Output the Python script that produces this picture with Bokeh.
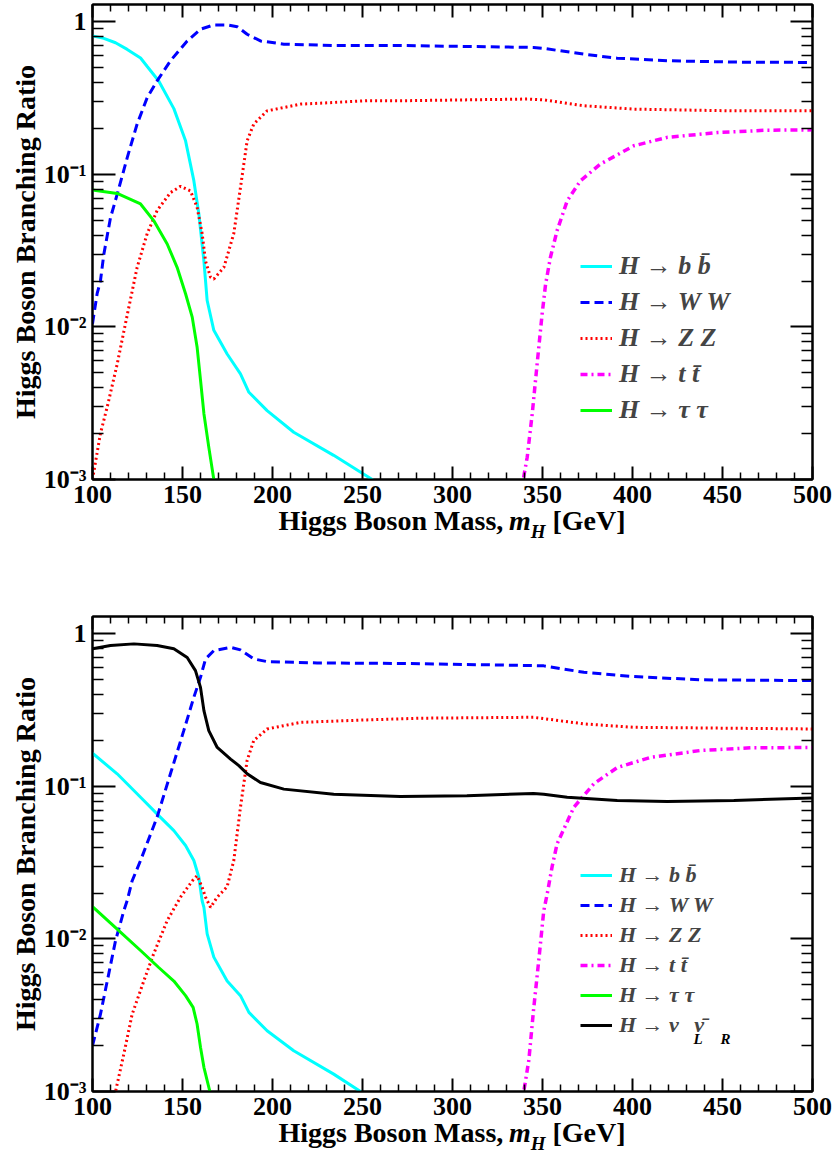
from bokeh.plotting import figure
from bokeh.layouts import column
from bokeh.models import (LogAxis, LinearAxis, FixedTicker, Legend, LegendItem,
                          Label, Range1d, Div)
from bokeh.embed import file_html
from bokeh.resources import INLINE

# ---------------- data ----------------
x_major = [100, 150, 200, 250, 300, 350, 400, 450, 500]
x_minor = [m for m in range(100, 501, 10) if m % 50 != 0]
y_major = [0.001, 0.01, 0.1, 1.0]
y_minor = [k * d for d in (0.001, 0.01, 0.1) for k in range(2, 10)]
y_labels = {0.001: "10\u207b\u00b3", 0.01: "10\u207b\u00b2", 0.1: "10\u207b\u00b9", 1.0: "1"}

# --- upper panel ---
top_bb_m = [100, 106.3, 112.8, 119.3, 126.7, 130.4, 136.8, 145.2, 151.7, 156.3, 159.1,
            161.9, 163.7, 167.4, 174.8, 182.2, 186.9, 197, 211.8, 234, 255.4, 265]
top_bb_br = [0.81, 0.78, 0.73, 0.66, 0.58, 0.51, 0.41, 0.27, 0.166, 0.091, 0.055,
             0.027, 0.0149, 0.0095, 0.00665, 0.00492, 0.00373, 0.00283, 0.00204, 0.00144,
             0.001, 0.00085]

top_ww_m = [100, 102.6, 104.4, 106.3, 110, 113.7, 119.3, 124.8, 130.4, 135.9, 143.3,
            152.6, 160, 167.4, 174.8, 180.4, 185.9, 193.3, 206.3, 234, 271, 345,
            350.7, 373, 391.5, 419.3, 456.3, 500]
top_ww_br = [0.0105, 0.0166, 0.020, 0.030, 0.052, 0.074, 0.129, 0.214, 0.319, 0.41, 0.556,
             0.75, 0.895, 0.955, 0.955, 0.93, 0.83, 0.75, 0.714, 0.70, 0.70, 0.68,
             0.67, 0.614, 0.578, 0.556, 0.545, 0.542]

top_zz_m = [100, 104.4, 108.2, 113.7, 119.3, 124.8, 130.4, 135.9, 143.3, 148.9, 154.4,
            158.1, 160.9, 162.8, 165.6, 167.4, 173, 178.5, 182.2, 185.9, 189.6, 197,
            215.6, 252.6, 271, 341.5, 350.7, 373, 400.7, 456, 500]
top_zz_br = [0.001, 0.002, 0.003, 0.0057, 0.012, 0.0246, 0.041, 0.058, 0.076, 0.0835, 0.078,
             0.061, 0.041, 0.027, 0.0212, 0.0206, 0.0246, 0.041, 0.082, 0.166, 0.214, 0.261,
             0.289, 0.304, 0.304, 0.312, 0.308, 0.282, 0.268, 0.261, 0.261]

top_tt_m = [338, 339.3, 341.5, 344.3, 347, 349.8, 351.7, 354.4, 358.1, 363.7, 371.1,
            382.2, 400.7, 419.3, 447, 474.8, 500]
top_tt_br = [0.0008, 0.001, 0.0014, 0.0027, 0.0057, 0.0122, 0.019, 0.0286, 0.0428, 0.067,
             0.091, 0.117, 0.154, 0.175, 0.188, 0.195, 0.196]

top_tau_m = [100, 113.7, 126.7, 134, 141.5, 147, 151.7, 155.4, 158.1, 160, 161.9, 164.6,
             167.4, 169]
top_tau_br = [0.079, 0.075, 0.064, 0.0498, 0.035, 0.0246, 0.0165, 0.0116, 0.0074, 0.0045,
              0.0027, 0.00163, 0.001, 0.0008]

# --- lower panel ---
bot_bb_m = [100, 113.7, 126.7, 136.8, 145.2, 151.7, 156.3, 159.1, 160.9, 161.9, 163.7,
            167.4, 174.8, 182.2, 186.9, 197, 211.8, 234, 248.9, 258]
bot_bb_br = [0.165, 0.121, 0.085, 0.0644, 0.0513, 0.041, 0.0327, 0.0254, 0.0178, 0.0161,
             0.0108, 0.0076, 0.0053, 0.00425, 0.0033, 0.0025, 0.00185, 0.0013, 0.001, 0.00085]

bot_ww_m = [100, 104.4, 108.2, 112.8, 117.4, 119.3, 122, 126.7, 135.9, 143.3, 150.7,
            156.3, 160, 162.8, 167.4, 176.7, 182.2, 189.6, 197, 224.8, 271, 345, 350.7,
            373, 400.7, 437.8, 500]
bot_ww_br = [0.002, 0.0032, 0.0053, 0.00975, 0.0153, 0.0179, 0.024, 0.0327, 0.063, 0.121,
             0.232, 0.384, 0.519, 0.685, 0.777, 0.817, 0.785, 0.685, 0.658, 0.645, 0.64,
             0.62, 0.617, 0.56, 0.525, 0.50, 0.494]

bot_zz_m = [110, 112.8, 117.4, 122, 128.5, 134, 141.5, 148.9, 155.4, 158.1, 160.9, 162.8,
            165.6, 169.3, 174.8, 178.5, 182.2, 185.9, 189.6, 197, 215.6, 252.6, 282, 345,
            373, 400.7, 500]
bot_zz_br = [0.0007, 0.001, 0.00176, 0.0032, 0.0053, 0.008, 0.0132, 0.0188, 0.024, 0.026,
             0.0218, 0.0188, 0.0161, 0.0188, 0.022, 0.0327, 0.073, 0.148, 0.2, 0.238,
             0.263, 0.273, 0.28, 0.284, 0.257, 0.244, 0.238]

bot_tt_m = [338, 339.6, 342.4, 345, 347.9, 350.7, 352.6, 355.4, 358.1, 367.4, 378.5,
            391.5, 410, 437.8, 465.6, 500]
bot_tt_br = [0.0008, 0.001, 0.0016, 0.0034, 0.0072, 0.0153, 0.0197, 0.030, 0.042, 0.073,
             0.104, 0.133, 0.155, 0.172, 0.179, 0.18]

bot_tau_m = [100, 113.7, 126.7, 136.8, 145.2, 151.7, 155.9, 158.1, 160, 161.9, 165.2, 167]
bot_tau_br = [0.0163, 0.0116, 0.0084, 0.0065, 0.0053, 0.00425, 0.00356, 0.00277, 0.00195,
              0.00144, 0.001, 0.0008]

bot_nu_m = [100, 110, 123, 135.9, 145.2, 152.6, 157.2, 160, 161.9, 164.6, 169.3, 176.7,
            181.3, 185.9, 193.3, 206.3, 234, 271, 308, 345, 350.7, 363.7, 391.5, 419.3,
            456.3, 500]
bot_nu_br = [0.80, 0.84, 0.86, 0.84, 0.80, 0.70, 0.574, 0.446, 0.314, 0.232, 0.18, 0.151,
             0.137, 0.121, 0.106, 0.096, 0.089, 0.086, 0.087, 0.090, 0.089, 0.085, 0.081,
             0.0795, 0.081, 0.084]

labels_top = ["H \u2192 b b\u0304", "H \u2192 W W", "H \u2192 Z Z", "H \u2192 t t\u0304",
              "H \u2192 \u03c4 \u03c4"]
labels_bot = labels_top + ["H \u2192 \u03bd\u2002\u2009\u03bd\u0304"]

x_title_html = ('<div style="position:relative; top:-12px; width:720px;'
                ' font-family:\'Liberation Serif\'; font-size:28px; font-weight:bold;'
                ' line-height:28px; text-align:center; color:black; white-space:nowrap;">'
                'Higgs Boson Mass,\u2009<i>m</i>'
                '<span style="font-size:19px; font-style:italic; position:relative;'
                ' top:8px;">H</span> [GeV]</div>')

FONT = "Liberation Serif"
STYLES = {
    "bb": dict(line_color="#00ffff", line_width=3),
    "ww": dict(line_color="#0000ff", line_width=3, line_dash="9 5"),
    "zz": dict(line_color="#ff0000", line_width=3, line_dash="2 3"),
    "tt": dict(line_color="#ff00ff", line_width=3.5, line_dash="7 4 2 4"),
    "tau": dict(line_color="#00ff00", line_width=3),
    "nu": dict(line_color="#000000", line_width=3),
}


def style_axis(ax, tick_in, minor_in, labels=True):
    ax.axis_line_color = "black"
    ax.axis_line_width = 2
    ax.major_tick_in = tick_in
    ax.major_tick_out = 0
    ax.minor_tick_in = minor_in
    ax.minor_tick_out = 0
    ax.major_tick_line_width = 2
    ax.minor_tick_line_width = 1.5
    ax.major_tick_line_color = "black"
    ax.minor_tick_line_color = "black"
    if labels:
        ax.major_label_text_font = FONT
        ax.major_label_text_font_style = "bold"
        ax.major_label_text_font_size = "26px"
        ax.major_label_text_color = "black"
    else:
        ax.major_label_text_font_size = "1px"
        ax.major_label_text_alpha = 0
        ax.major_label_standoff = 0


def make_panel(series, labels, border_top, border_bottom, leg_font, leg_row, leg_y):
    p = figure(x_range=Range1d(100, 500), y_range=Range1d(1e-3, 1.3), y_axis_type="log",
               frame_width=720, frame_height=475, min_border_left=92, min_border_right=24,
               min_border_top=border_top, min_border_bottom=border_bottom,
               output_backend="svg", toolbar_location=None, background_fill_color="white")
    p.grid.visible = False
    p.outline_line_color = "black"
    p.outline_line_width = 2

    xa = p.xaxis[0]
    xa.ticker = FixedTicker(ticks=x_major, minor_ticks=x_minor)
    style_axis(xa, 13, 7)
    xa.major_label_standoff = 6

    ya = p.yaxis[0]
    ya.ticker = FixedTicker(ticks=y_major, minor_ticks=y_minor)
    ya.major_label_overrides = y_labels
    style_axis(ya, 23, 11)
    ya.major_label_standoff = 6
    ya.axis_label = "Higgs Boson Branching Ratio"
    ya.axis_label_text_font = FONT
    ya.axis_label_text_font_style = "bold"
    ya.axis_label_text_font_size = "28px"
    ya.axis_label_text_color = "black"
    ya.axis_label_standoff = 0

    top_ax = LinearAxis(ticker=FixedTicker(ticks=x_major, minor_ticks=x_minor))
    style_axis(top_ax, 13, 7, labels=False)
    p.add_layout(top_ax, "above")
    right_ax = LogAxis(ticker=FixedTicker(ticks=y_major, minor_ticks=y_minor))
    style_axis(right_ax, 22, 11, labels=False)
    p.add_layout(right_ax, "right")

    items = []
    for (key, m, br), lab in zip(series, labels):
        r = p.line(m, br, **STYLES[key])
        items.append(LegendItem(label=lab, renderers=[r]))

    leg = Legend(items=items, location=(488, leg_y), label_text_font=FONT,
                 label_text_font_style="bold italic", label_text_font_size=leg_font,
                 glyph_width=32, glyph_height=leg_row, label_height=leg_row, spacing=0,
                 padding=0, margin=0, label_standoff=7, border_line_alpha=0,
                 background_fill_alpha=0)
    p.add_layout(leg)
    return p


top_series = [("bb", top_bb_m, top_bb_br), ("ww", top_ww_m, top_ww_br),
              ("zz", top_zz_m, top_zz_br), ("tt", top_tt_m, top_tt_br),
              ("tau", top_tau_m, top_tau_br)]
bot_series = [("bb", bot_bb_m, bot_bb_br), ("ww", bot_ww_m, bot_ww_br),
              ("zz", bot_zz_m, bot_zz_br), ("tt", bot_tt_m, bot_tt_br),
              ("tau", bot_tau_m, bot_tau_br), ("nu", bot_nu_m, bot_nu_br)]

p1 = make_panel(top_series, labels_top, 4, 40, "26px", 36, 51)
p2 = make_panel(bot_series, labels_bot, 56, 40, "22px", 30, 51)

# subscripts of the neutrino legend entry
sub = dict(x_units="screen", y_units="screen", text_font=FONT, text_color="black",
           text_font_style="bold italic", text_font_size="15px", text_baseline="alphabetic")
p2.add_layout(Label(x=601, y=53, text="L", **sub))
p2.add_layout(Label(x=628, y=53, text="R", **sub))

d1 = Div(text=x_title_html, width=720, height=41, margin=(0, 0, 0, 92))
d2 = Div(text=x_title_html, width=720, height=26, margin=(0, 0, 0, 92))

layout = column(p1, d1, p2, d2, spacing=0)
open("out.html", "w").write(file_html(layout, INLINE))
